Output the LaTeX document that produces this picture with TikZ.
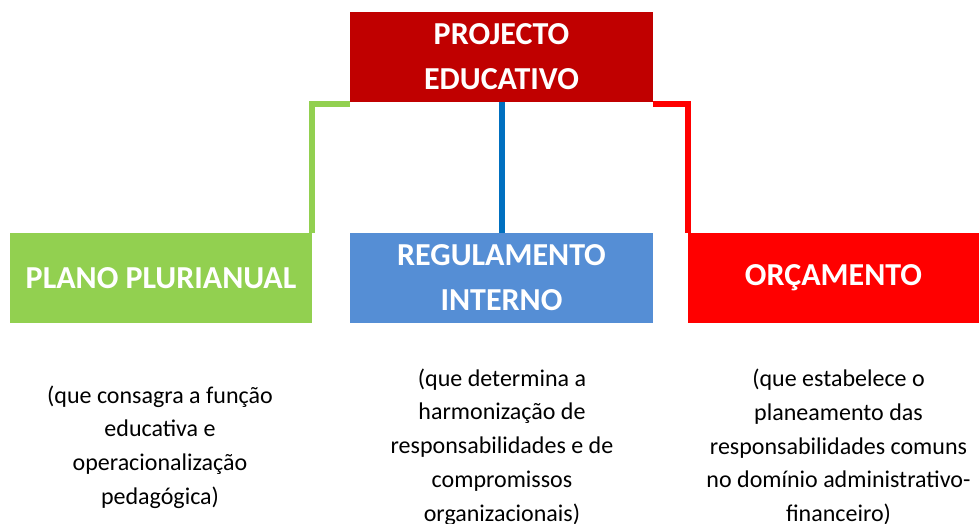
\documentclass[tikz,border=0pt]{standalone}
\usepackage{fontspec}
\setmainfont{Carlito}
\definecolor{topred}{HTML}{C00000}
\definecolor{boxgreen}{HTML}{92D050}
\definecolor{boxblue}{HTML}{558ED5}
\definecolor{boxred}{HTML}{FF0000}
\definecolor{lineblue}{HTML}{0070C0}
\begin{document}
\begin{tikzpicture}[x=1pt,y=-1pt,
  box/.style={inner sep=0pt, minimum height=90pt, align=center, text=white,
    font=\bfseries\fontsize{32}{45}\selectfont},
  desc/.style={align=center, inner sep=0pt, font=\fontsize{24}{33.8}\selectfont},
  conn/.style={line width=6pt}]
\useasboundingbox (0,0) rectangle (979,524);
\node[box, fill=topred, minimum width=303pt] (top) at (501.5,57) {PROJECTO\\EDUCATIVO};
\node[box, fill=boxgreen, minimum width=302pt] (plano) at (161,278) {PLANO PLURIANUAL};
\node[box, fill=boxblue, minimum width=303pt] (reg) at (501.5,278) {REGULAMENTO\\INTERNO};
\node[box, fill=boxred, minimum width=291pt] (orc) at (833.5,278) {ORÇAMENTO};
\draw[conn, boxgreen] ([yshift=-2pt]top.south west) -| (plano.north east);
\draw[conn, lineblue] (top.south) -- (reg.north);
\draw[conn, boxred] ([yshift=-2pt]top.south east) -| (orc.north west);
\node[desc] (d1) at (160,447) {(que consagra a função\\educativa e\\operacionalização\\pedagógica)};
\node[desc] (d2) at (502,447) {(que determina a\\harmonização de\\responsabilidades e de\\compromissos\\organizacionais)};
\node[desc] (d3) at (838.5,447) {(que estabelece o\\planeamento das\\responsabilidades comuns\\no domínio administrativo-\\financeiro)};
\end{tikzpicture}
\end{document}
